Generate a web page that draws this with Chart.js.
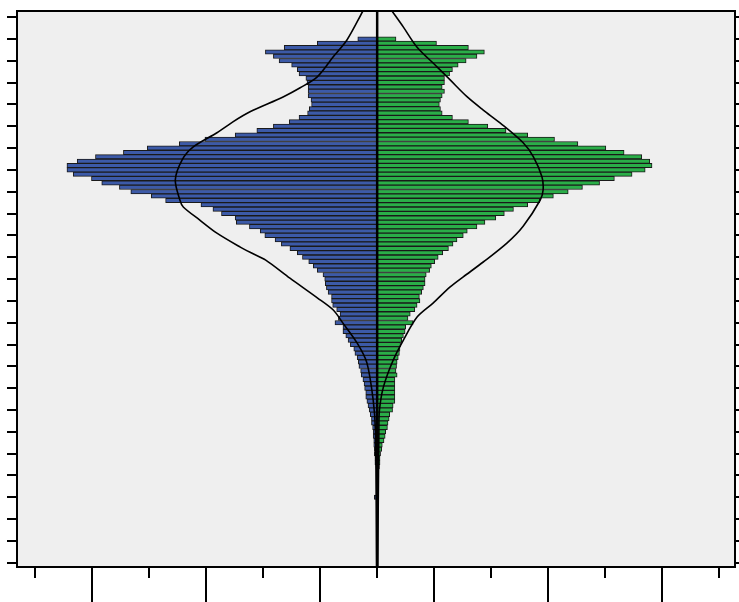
<!DOCTYPE html>
<html><head><meta charset="utf-8">
<script src="https://cdn.jsdelivr.net/npm/chart.js@4.4.1/dist/chart.umd.min.js"></script>
<style>html,body{margin:0;padding:0;background:#fff;}#wrap{width:739px;height:602px;}</style>
</head><body><div id="wrap"><canvas id="c" width="739" height="602"></canvas></div>
<script>
// Row (bin) index of each bar, top row = 0
const bins = [0,1,2,3,4,5,6,7,8,9,10,11,12,13,14,15,16,17,18,19,20,21,22,23,24,25,26,27,28,29,30,31,32,33,34,35,36,37,38,39,40,41,42,43,44,45,46,47,48,49,50,51,52,53,54,55,56,57,58,59,60,61,62,63,64,65,66,67,68,69,70,71,72,73,74,75,76,77,78,79,80,81,82,83,84,85,86,87,88,89,90,91,92,93,94,95,96,97,98,105];
// Left (blue) frequencies
const leftValues = [34,105,163,196,182,172,150,140,137,125,123,121,121,121,116,115,119,122,137,154,182,211,249,302,347,403,445,494,526,544,544,533,501,483,452,432,396,371,309,288,273,249,247,224,205,197,179,168,153,140,131,120,112,105,95,92,91,89,86,80,80,78,71,65,68,74,60,60,55,51,47,41,39,35,33,32,29,28,25,23,22,20,20,18,16,14,12,10,10,8,7,7,6,6,5,5,4,4,2,5];
// Right (green) frequencies
const rightValues = [33,104,160,188,175,156,142,132,127,118,118,114,118,114,111,109,111,114,132,160,194,226,264,311,352,401,433,464,478,482,470,447,416,390,360,335,309,285,264,239,223,208,189,175,158,151,140,133,125,115,107,101,95,92,86,84,84,81,78,74,75,70,66,58,54,63,50,49,46,43,41,40,39,37,35,34,33,35,31,31,31,31,31,31,28,27,22,21,19,18,15,14,12,9,8,6,5,5,4,0];
// Fitted curves (row position, value)
const leftCurveRows = [-6.39,0.25,4.1,8.7,11.2,13.3,16.7,19.0,21.5,24.8,27.7,32.3,36.9,38.5,41.5,44.5,47.7,49.0,50.6,54.8,59.3,62.1,65.1,69.7,74.2,82.7,90,121];
const leftCurveValues = [25,53,77,105,135,165,223,253,281,323,342,354,346,340,311,281,240,221,196,153,105,77,60,35,18,7,3,1];
const rightCurveRows = [-6.39,-2.7,1.9,6.4,9.4,13.3,16.3,19.3,23.8,27.0,31.6,34.6,36.9,42.9,46.7,51.1,54.5,56.8,60.5,63.7,68.97,73.6,79.7,85,90,121];
const rightCurveValues = [26,46,70,105,128,158,186,216,256,274,289,291,286,256,228,186,151,128,98,70,46,28,11,4,3,1];
// Axis ticks
const rowTicks = [-5,0,5,10,15,20,25,30,35,40,45,50,55,60,65,70,75,80,85,90,95,100,105,110,115,120];
const freqTicksLong = [-500,-300,-100,100,300,500];
const freqTicksShort = [-600,-400,-200,0,200,400,600];

const frame = {
  id: 'frame',
  beforeDraw(chart) {
    const {ctx, chartArea: a} = chart;
    ctx.save();
    ctx.fillStyle = '#efefef';
    ctx.fillRect(a.left, a.top, a.right - a.left, a.bottom - a.top);
    ctx.restore();
  },
  afterDraw(chart) {
    const {ctx, chartArea: a} = chart;
    const xs = chart.scales.x;
    ctx.save();
    ctx.strokeStyle = '#000';
    ctx.lineWidth = 2.5;
    const x0 = xs.getPixelForValue(0);
    ctx.beginPath(); ctx.moveTo(x0, a.top); ctx.lineTo(x0, a.bottom); ctx.stroke();
    ctx.lineWidth = 2;
    ctx.strokeRect(a.left, a.top, a.right - a.left, a.bottom - a.top);
    ctx.beginPath();
    freqTicksLong.forEach(v => { const x = Math.round(xs.getPixelForValue(v)); ctx.moveTo(x, a.bottom); ctx.lineTo(x, a.bottom + 35); });
    freqTicksShort.forEach(v => { const x = Math.round(xs.getPixelForValue(v)); ctx.moveTo(x, a.bottom); ctx.lineTo(x, a.bottom + 11); });
    ctx.stroke();
    ctx.restore();
  }
};

const mk = (vals, sign) => bins.map((b, i) => ({x: sign * vals[i], y: b}));
const curve = (rows, vals, sign) => rows.map((r, i) => ({x: sign * vals[i], y: r}));

const rowAxis = (pos, len) => ({
  type: 'linear', position: pos, reverse: true, min: -6.39, max: 120.96, offset: false,
  ticks: {display: false},
  grid: {display: true, offset: false, drawOnChartArea: false, drawTicks: true, tickLength: len, color: '#000', lineWidth: 2},
  border: {display: false},
  afterBuildTicks: s => { s.ticks = rowTicks.map(v => ({value: v})); },
  afterFit: s => { s.width = len; }
});

new Chart(document.getElementById('c'), {
  type: 'bar',
  data: {
    datasets: [
      {type: 'line', data: curve(leftCurveRows, leftCurveValues, -1), borderColor: '#000', borderWidth: 1.6, pointRadius: 0, fill: false, tension: 0.3, order: 0, yAxisID: 'y'},
      {type: 'line', data: curve(rightCurveRows, rightCurveValues, 1), borderColor: '#000', borderWidth: 1.6, pointRadius: 0, fill: false, tension: 0.3, order: 0, yAxisID: 'y'},
      {type: 'bar', data: mk(leftValues, -1), backgroundColor: '#3c5aa8', borderColor: '#1a1a1a', borderWidth: 1, grouped: false, barPercentage: 1, categoryPercentage: 1, order: 1, yAxisID: 'y'},
      {type: 'bar', data: mk(rightValues, 1), backgroundColor: '#2aae48', borderColor: '#1a1a1a', borderWidth: 1, grouped: false, barPercentage: 1, categoryPercentage: 1, order: 1, yAxisID: 'y'}
    ]
  },
  options: {
    indexAxis: 'y',
    responsive: false,
    animation: false,
    devicePixelRatio: 1,
    layout: {padding: {left: 7, right: 0, top: 11, bottom: 0}},
    plugins: {legend: {display: false}, tooltip: {enabled: false}},
    scales: {
      x: {type: 'linear', min: -631.6, max: 627.5, ticks: {display: false}, grid: {display: false}, border: {display: false},
          afterFit: s => { s.height = 35; }},
      y: rowAxis('left', 10),
      y2: rowAxis('right', 4)
    }
  },
  plugins: [frame]
});
</script>
</body></html>
